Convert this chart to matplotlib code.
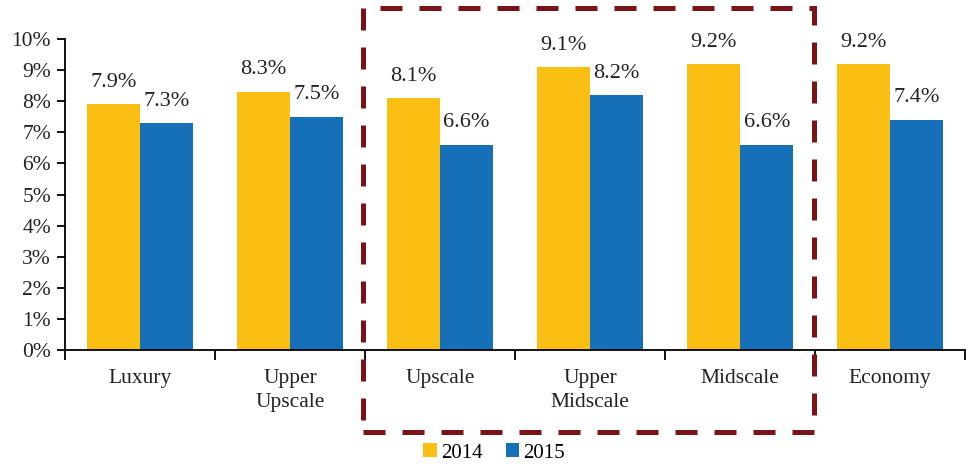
import matplotlib.pyplot as plt
import numpy as np
from matplotlib.patches import Rectangle
from matplotlib.ticker import FuncFormatter, FixedLocator

plt.rcParams['font.family'] = ['Liberation Serif', 'DejaVu Serif']

segments = ['Luxury', 'Upper\nUpscale', 'Upscale', 'Upper\nMidscale', 'Midscale', 'Economy']
y2014 = [7.9, 8.3, 8.1, 9.1, 9.2, 9.2]
y2015 = [7.3, 7.5, 6.6, 8.2, 6.6, 7.4]

c2014 = '#FBBF14'
c2015 = '#1570B8'
box_red = '#7B1416'
txt = '#222222'

fig = plt.figure(figsize=(9.69, 4.66), dpi=100)
ax = fig.add_axes([0.067, 0.249, 0.929, 0.667])

x = np.arange(len(segments))
w = 0.355
b1 = ax.bar(x - w / 2, y2014, w, color=c2014, label='2014')
b2 = ax.bar(x + w / 2, y2015, w, color=c2015, label='2015')

for bars, vals in ((b1, y2014), (b2, y2015)):
    for bar, v in zip(bars, vals):
        ax.annotate(f'{v:.1f}%', (bar.get_x() + bar.get_width() / 2, v),
                    xytext=(0, 9), textcoords='offset points',
                    ha='center', va='bottom', fontsize=16, color=txt)

ax.set_xlim(-0.5, len(segments) - 0.5)
ax.set_ylim(0, 10)
ax.set_yticks(np.arange(0, 11, 1))
ax.yaxis.set_major_formatter(FuncFormatter(lambda v, p: f'{v:.0f}%'))
ax.set_xticks(x)
ax.set_xticklabels(segments, linespacing=1.3)
ax.xaxis.set_minor_locator(FixedLocator(np.arange(-0.5, len(segments), 1)))
ax.tick_params(axis='x', which='major', length=0, pad=14, labelsize=15.5, labelcolor=txt)
ax.tick_params(axis='x', which='minor', length=7, width=1.3, direction='out')
ax.tick_params(axis='y', length=6, width=1.3, labelsize=15.5, labelcolor=txt, pad=4)

for side in ('top', 'right'):
    ax.spines[side].set_visible(False)
for side in ('left', 'bottom'):
    ax.spines[side].set_linewidth(1.3)

# dashed highlight around the middle three segments
box = Rectangle((1.49, -0.263), 3.0, 1.363, transform=ax.get_xaxis_transform(),
                fill=False, edgecolor=box_red, linewidth=3.6,
                linestyle=(0, (4.4, 3.4)), clip_on=False, zorder=5)
ax.add_patch(box)

fig.legend(handles=[b1, b2], labels=['2014', '2015'], loc='center',
           bbox_to_anchor=(0.51, 0.028), ncol=2, frameon=False, fontsize=15,
           handlelength=0.65, handleheight=0.65, handletextpad=0.2, columnspacing=1.1)

fig.savefig('out.png', dpi=100)
